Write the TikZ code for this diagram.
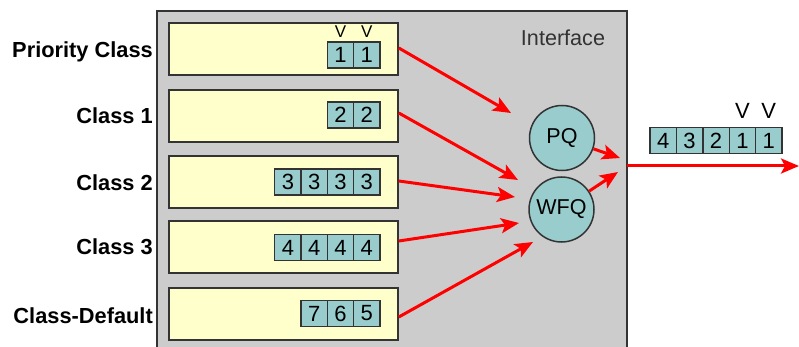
\documentclass[tikz,border=0pt]{standalone}
\usepackage{fontspec}
\setmainfont{Liberation Sans}
\usetikzlibrary{arrows.meta}
\definecolor{ifgray}{HTML}{CCCCCC}
\definecolor{qyellow}{HTML}{FFFFCC}
\definecolor{pteal}{HTML}{99CCCC}
\definecolor{edgec}{HTML}{333333}
\begin{document}
\begin{tikzpicture}[x=1pt,y=-1pt,
  qbox/.style={draw=edgec, line width=1.6pt, fill=qyellow, minimum width=229pt, minimum height=52pt, inner sep=0pt},
  pkt/.style={draw=edgec, line width=1.3pt, fill=pteal, minimum width=26.3pt, minimum height=26pt, inner sep=0pt, font=\fontsize{22}{22}\selectfont},
  sched/.style={circle, draw=edgec, line width=1.5pt, fill=pteal, minimum size=65pt, inner sep=0pt, font=\fontsize{21.5}{21.5}\selectfont},
  lbl/.style={anchor=east, inner sep=0pt, text height=15.5pt, text depth=0pt, font=\bfseries\fontsize{21.8}{22}\selectfont},
  vsign/.style={inner sep=0pt},
  flow/.style={draw=red, line width=3pt, -{Stealth[length=18pt,width=15pt,inset=4pt]}}
]
\useasboundingbox (0,0) rectangle (799,347);
\fill[white] (0,0) rectangle (799,347);
% interface box
\draw[edgec, line width=1.6pt, fill=ifgray] (157,11) rectangle (627,360);
\node[font=\fontsize{21.6}{21.6}\selectfont, text=edgec] (iftext) at (563,38) {Interface};

% labels
\node[lbl] (l1) at (153,50) {Priority Class};
\node[lbl] (l2) at (153,116) {Class 1};
\node[lbl] (l3) at (153,183) {Class 2};
\node[lbl] (l4) at (153,247) {Class 3};
\node[lbl] (l5) at (153,316) {Class-Default};

% queue boxes
\node[qbox] (q1) at (283.5,49) {};
\node[qbox] (q2) at (283.5,116) {};
\node[qbox] (q3) at (283.5,182) {};
\node[qbox] (q4) at (283.5,247) {};
\node[qbox] (q5) at (283.5,314) {};

% packets row 1
\node[pkt] (p1b) at (340.55,55) {1};
\node[pkt] (p1a) at (366.85,55) {1};
\node[vsign, font=\fontsize{17}{17}\selectfont] (v1b) at (340.55,31.5) {V};
\node[vsign, font=\fontsize{17}{17}\selectfont] (v1a) at (366.85,31.5) {V};
% row 2
\node[pkt] (p2b) at (340.55,115) {2};
\node[pkt] (p2a) at (366.85,115) {2};
% row 3
\node[pkt] (p3d) at (287.95,182) {3};
\node[pkt] (p3c) at (314.25,182) {3};
\node[pkt] (p3b) at (340.55,182) {3};
\node[pkt] (p3a) at (366.85,182) {3};
% row 4
\node[pkt] (p4d) at (287.95,247.5) {4};
\node[pkt] (p4c) at (314.25,247.5) {4};
\node[pkt] (p4b) at (340.55,247.5) {4};
\node[pkt] (p4a) at (366.85,247.5) {4};
% row 5
\node[pkt] (p5c) at (314.25,313.5) {7};
\node[pkt] (p5b) at (340.55,313.5) {6};
\node[pkt] (p5a) at (366.85,313.5) {5};

% schedulers
\node[sched] (pq) at (562,138) {PQ};
\node[sched] (wfq) at (561.5,209.5) {WFQ};

% arrow tips
\coordinate (t1) at (511,113);
\coordinate (t2) at (518,180);
\coordinate (t3) at (515,197);
\coordinate (t4) at (519,223);
\coordinate (t5) at (533,242);
\coordinate (c1) at (620,158);
\coordinate (c2) at (618,172);
\coordinate (ostart) at (627,166);
\coordinate (oend) at (799,166);

\draw[flow] ([yshift=1pt]q1.east) -- (t1);
\draw[flow] ([yshift=3pt]q2.east) -- (t2);
\draw[flow] ([yshift=1pt]q3.east) -- (t3);
\draw[flow] ([yshift=6pt]q4.east) -- (t4);
\draw[flow] ([yshift=-3pt]q5.east) -- (t5);
\draw[flow] (pq) -- (c1);
\draw[flow] (wfq) -- (c2);
\draw[flow] (ostart) -- (oend);

% output queue
\node[pkt] (o5) at (663.2,140.5) {4};
\node[pkt] (o4) at (689.6,140.5) {3};
\node[pkt] (o3) at (716,140.5) {2};
\node[pkt] (o2) at (742.4,140.5) {1};
\node[pkt] (o1) at (768.8,140.5) {1};
\node[vsign, font=\fontsize{22}{22}\selectfont] (vo2) at (742.4,111) {V};
\node[vsign, font=\fontsize{22}{22}\selectfont] (vo1) at (768.8,111) {V};
\end{tikzpicture}
\end{document}
